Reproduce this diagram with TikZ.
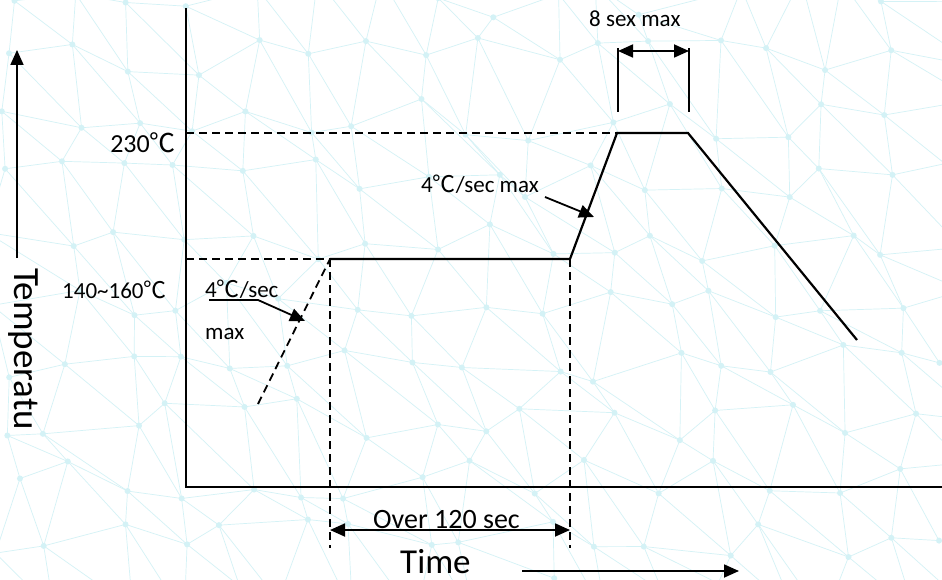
\documentclass[tikz,border=0pt]{standalone}
\usepackage{fontspec}
\setmainfont{Carlito}
\newfontfamily\cjkfont{Noto Sans CJK SC}
\usetikzlibrary{arrows.meta}
\newcommand{\dC}{{\cjkfont ℃}}
\definecolor{meshc}{RGB}{212,242,246}
\begin{document}
\begin{tikzpicture}[x=1pt,y=-1pt,
  axis/.style={line width=2.4pt},
  prof/.style={line width=2.2pt, line join=miter},
  guide/.style={line width=1.8pt, dash pattern=on 8pt off 5pt},
  tick/.style={line width=2pt},
  tip/.style={-{Triangle[length=15pt,width=13pt]}, line width=1.8pt},
  dtip/.style={{Triangle[length=15pt,width=13pt]}-{Triangle[length=15pt,width=13pt]}, line width=1.8pt},
  lbl/.style={inner sep=0pt, font=\fontsize{23}{26}\selectfont},
  mesh/.style={draw=meshc, line width=0.7pt}]
\useasboundingbox[fill=white] (0,0) rectangle (942,580);
% faint background network
\begin{scope}
\clip (0,0) rectangle (942,580);
\pgfmathsetseed{11}
\foreach \i in {0,...,16}{
  \foreach \j in {0,...,10}{
    \pgfmathsetmacro{\px}{\i*60+22*rand}
    \pgfmathsetmacro{\py}{\j*60+22*rand}
    \coordinate (p-\i-\j) at (\px,\py);
  }
}
\foreach \i in {0,...,15}{
  \foreach \j in {0,...,9}{
    \pgfmathtruncatemacro{\ii}{\i+1}
    \pgfmathtruncatemacro{\jj}{\j+1}
    \draw[mesh] (p-\i-\j) -- (p-\ii-\j);
    \draw[mesh] (p-\i-\j) -- (p-\i-\jj);
    \draw[mesh] (p-\i-\j) -- (p-\ii-\jj);
  }
}
\foreach \i in {0,...,16}{
  \foreach \j in {0,...,10}{
    \fill[meshc] (p-\i-\j) circle (3pt);
  }
}
\end{scope}
% coordinates
\coordinate (O) at (186,487);
\coordinate (Ytop) at (186,8);
\coordinate (Xend) at (942,487);
\coordinate (A) at (258,404);
\coordinate (B) at (330,259);
\coordinate (C) at (570,259);
\coordinate (D) at (617,133);
\coordinate (E) at (688,133);
\coordinate (F) at (857,340);
\coordinate (Y230) at (186,133);
\coordinate (Y150) at (186,259);
\coordinate (Bd) at (330,548);
\coordinate (Cd) at (570,548);
\coordinate (Ba) at (330,530);
\coordinate (Ca) at (570,530);
\coordinate (Dt) at (618,112);
\coordinate (Dtt) at (618,48);
\coordinate (Et) at (689,112);
\coordinate (Ett) at (689,48);
\coordinate (Da) at (618,51);
\coordinate (Ea) at (689,51);
\coordinate (T1) at (17,258);
\coordinate (T2) at (17,50);
\coordinate (X1) at (522,571);
\coordinate (X2) at (739,571);
\coordinate (U1) at (209,300);
\coordinate (U2) at (258,300);
\coordinate (U3) at (305,321);
\coordinate (R1) at (545,197);
\coordinate (R2) at (594,217);
% axes
\draw[axis] (Ytop) -- (O) -- (Xend);
% guides
\draw[guide] (Y230) -- (D);
\draw[guide] (Y150) -- (B);
\draw[guide] (A) -- (B);
\draw[guide] (B) -- (Bd);
\draw[guide] (C) -- (Cd);
% profile
\draw[prof] (B) -- (C) -- (D) -- (E) -- (F);
% 8 sec marks
\draw[tick] (Dt) -- (Dtt);
\draw[tick] (Et) -- (Ett);
\draw[dtip] (Da) -- (Ea);
% over 120
\draw[dtip] (Ba) -- (Ca);
% axis arrows
\draw[tip] (T1) -- (T2);
\draw[tip] (X1) -- (X2);
% slope arrows
\draw[tip] (U1) -- (U2) -- (U3);
\draw[tip] (R1) -- (R2);
% labels
\node[lbl, anchor=base west] (l8) at (589,27) {8 sex max};
\node[lbl, anchor=base east, font=\fontsize{26}{29}\selectfont] (l230) at (176,153) {230\dC};
\node[lbl, anchor=base west, font=\fontsize{23}{26}\selectfont] (l140) at (62,298) {140\char`~160\dC};
\node[lbl, anchor=base west] (lr) at (421,193) {4\dC/sec max};
\node[lbl, anchor=base west] (ll1) at (205,297) {4\dC/sec};
\node[lbl, anchor=base west] (ll2) at (205,339) {max};
\node[lbl, anchor=base west, font=\fontsize{28}{31}\selectfont] (lo) at (373,528) {Over 120 sec};
\node[lbl, anchor=base west, font=\fontsize{35}{40}\selectfont] (lt) at (400,573) {Time};
\node[lbl, anchor=base west, rotate=-90, font=\fontsize{37}{42}\selectfont] (ly) at (14,268) {Temperatu};
\end{tikzpicture}
\end{document}
